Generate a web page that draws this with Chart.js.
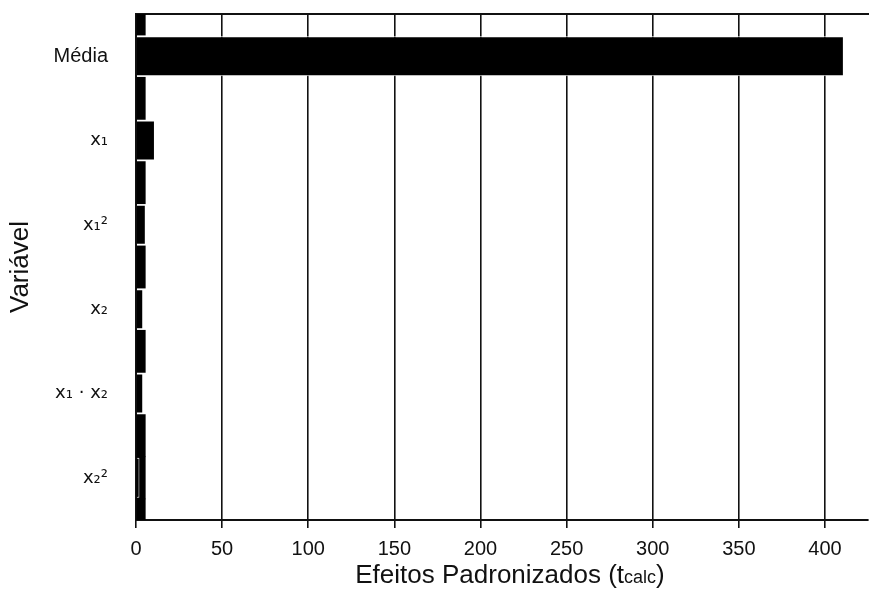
<!DOCTYPE html>
<html>
<head>
<meta charset="utf-8">
<script src="https://cdn.jsdelivr.net/npm/chart.js@4"></script>
<style>
  html, body { margin: 0; padding: 0; background: #fff; }
  #wrap { width: 869px; height: 599px; position: relative; }
</style>
</head>
<body>
<div id="wrap"><canvas id="c"></canvas></div>
<script>
// rows top to bottom; the empty rows are the gaps between the terms
const labels = ['', 'Média', '', 'x₁', '', 'x₁²', '', 'x₂', '', 'x₁ · x₂', '', 'x₂²', ''];
// standardized effects (t calc)
const efeitos = [null, 411, null, 11, null, 5.7, null, 4.2, null, 4.2, null, 2.0, null];
// narrow black band along the y axis (drawn in the gap rows)
const faixa = [5.4, null, 5.4, null, 5.4, null, 5.4, null, 5.4, null, 5.4, 5.4, 5.4];
const xTicks = { min: 0, max: 425, step: 50 };

const FONT = "'Liberation Sans', Arial, Helvetica, sans-serif";
const SUBFONT = "'DejaVu Sans', 'Liberation Sans', sans-serif"; // bigger sub/superscript digits
const INK = '#000';

// x title with the small "calc" part, drawn as text on the canvas
const xTitle = {
  id: 'xTitle',
  afterDraw(chart) {
    const ctx = chart.ctx;
    const a = chart.chartArea;
    const parts = [
      { t: 'Efeitos Padronizados (t', size: 26 },
      { t: 'calc', size: 18 },
      { t: ')', size: 26 }
    ];
    ctx.save();
    let total = 0;
    parts.forEach(p => { ctx.font = p.size + 'px ' + FONT; p.w = ctx.measureText(p.t).width; total += p.w; });
    let x = (a.left + a.right) / 2 - total / 2 + 8;
    ctx.fillStyle = '#111';
    ctx.textBaseline = 'alphabetic';
    ctx.textAlign = 'left';
    parts.forEach(p => { ctx.font = p.size + 'px ' + FONT; ctx.fillText(p.t, x, 583); x += p.w; });
    ctx.restore();
  }
};

new Chart(document.getElementById('c'), {
  type: 'bar',
  data: {
    labels: labels,
    datasets: [
      {
        label: 'Efeitos',
        data: efeitos,
        backgroundColor: INK,
        borderColor: '#fff',
        borderWidth: 1,
        barPercentage: 0.95,
        categoryPercentage: 1,
        grouped: false,
        order: 0,
        clip: 0
      },
      {
        label: 'faixa',
        data: faixa,
        backgroundColor: INK,
        borderWidth: 0,
        barPercentage: 1,
        categoryPercentage: 1,
        grouped: false,
        order: 1,
        clip: 0
      }
    ]
  },
  options: {
    indexAxis: 'y',
    responsive: true,
    maintainAspectRatio: false,
    animation: false,
    layout: { padding: { left: 0, right: 1, top: 0, bottom: 0 } },
    plugins: { legend: { display: false }, tooltip: { enabled: false } },
    scales: {
      x: {
        type: 'linear',
        position: 'bottom',
        min: xTicks.min,
        max: xTicks.max,
        afterFit(s) { s.height = 79; s.paddingLeft = 0; s.paddingRight = 0; },
        grid: { color: '#111', lineWidth: 1.6, tickLength: 8, drawTicks: true },
        border: { color: '#111', width: 2 },
        ticks: {
          stepSize: xTicks.step,
          includeBounds: false,
          color: '#111',
          padding: 9,
          maxRotation: 0,
          font: { family: FONT, size: 20 }
        }
      },
      xTop: {
        type: 'linear',
        axis: 'x',
        position: 'top',
        min: xTicks.min,
        max: xTicks.max,
        afterFit(s) { s.height = 14; s.paddingLeft = 0; s.paddingRight = 0; },
        grid: { display: false, drawTicks: false },
        border: { color: '#111', width: 2 },
        ticks: { display: false }
      },
      y: {
        type: 'category',
        position: 'left',
        offset: false,
        afterFit(s) { s.width = 136; s.paddingTop = 0; s.paddingBottom = 0; },
        grid: { display: false, drawTicks: false },
        border: { color: '#111', width: 2 },
        ticks: {
          color: '#111',
          padding: 28,
          autoSkip: false,
          font: ctx => (labels[ctx.index] || '').startsWith('x')
            ? { family: SUBFONT, size: 18 }
            : { family: FONT, size: 20 }
        },
        title: {
          display: true,
          text: 'Variável',
          color: '#111',
          padding: { top: 5, bottom: 4 },
          font: { family: FONT, size: 26 }
        }
      }
    }
  },
  plugins: [xTitle]
});
</script>
</body>
</html>
